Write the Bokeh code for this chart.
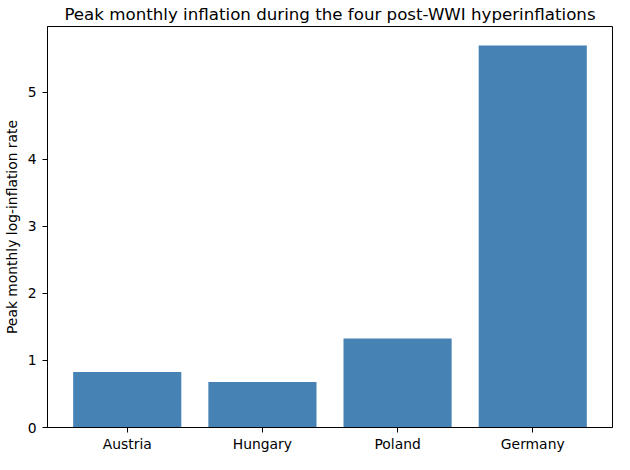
from bokeh.plotting import figure
from bokeh.models import Range1d, FixedTicker, ColumnDataSource
from bokeh.embed import file_html
from bokeh.resources import INLINE

countries = ["Austria", "Hungary", "Poland", "Germany"]
peak_rates = [0.83, 0.68, 1.33, 5.70]
y_ticks = [0, 1, 2, 3, 4, 5]

FONT = "DejaVu Sans"
BAR_W = 0.8

positions = list(range(len(countries)))
src = ColumnDataSource(dict(pos=positions, rate=peak_rates))

lo = -BAR_W / 2
hi = positions[-1] + BAR_W / 2
margin = (hi - lo) * 0.05

p = figure(
    x_range=Range1d(lo - margin, hi + margin),
    y_range=Range1d(0, max(peak_rates) * 1.05),
    width=614, height=454,
    output_backend="svg", toolbar_location=None,
    title="Peak monthly inflation during the four post-WWI hyperinflations",
    min_border_left=41, min_border_right=2, min_border_top=24, min_border_bottom=26,
)

p.vbar(x="pos", top="rate", width=BAR_W, source=src,
       fill_color="#4682B4", line_color=None)

p.title.align = "center"
p.title.text_font = FONT
p.title.text_font_size = "16.67px"
p.title.text_font_style = "normal"
p.title.text_color = "#000000"
p.title.standoff = 5
p.title.offset = 0

p.xgrid.visible = False
p.ygrid.visible = False
p.outline_line_color = "black"
p.outline_line_width = 1
p.outline_line_alpha = 1

for ax in (p.xaxis[0], p.yaxis[0]):
    ax.axis_line_color = "black"
    ax.major_tick_line_color = "black"
    ax.major_tick_out = 5
    ax.major_tick_in = 0
    ax.minor_tick_line_color = None
    ax.major_label_text_font = FONT
    ax.major_label_text_font_size = "13.89px"
    ax.major_label_text_color = "black"
    ax.axis_label_text_font = FONT
    ax.axis_label_text_font_size = "13.89px"
    ax.axis_label_text_font_style = "normal"
    ax.axis_label_text_color = "black"

p.yaxis[0].ticker = FixedTicker(ticks=y_ticks)
p.yaxis[0].axis_label = "Peak monthly log-inflation rate"
p.yaxis[0].axis_label_standoff = 5
p.yaxis[0].major_label_standoff = 6
p.xaxis[0].ticker = FixedTicker(ticks=positions)
p.xaxis[0].major_label_overrides = {i: c for i, c in zip(positions, countries)}
p.xaxis[0].major_label_standoff = 3

open("out.html", "w").write(file_html(p, INLINE))
